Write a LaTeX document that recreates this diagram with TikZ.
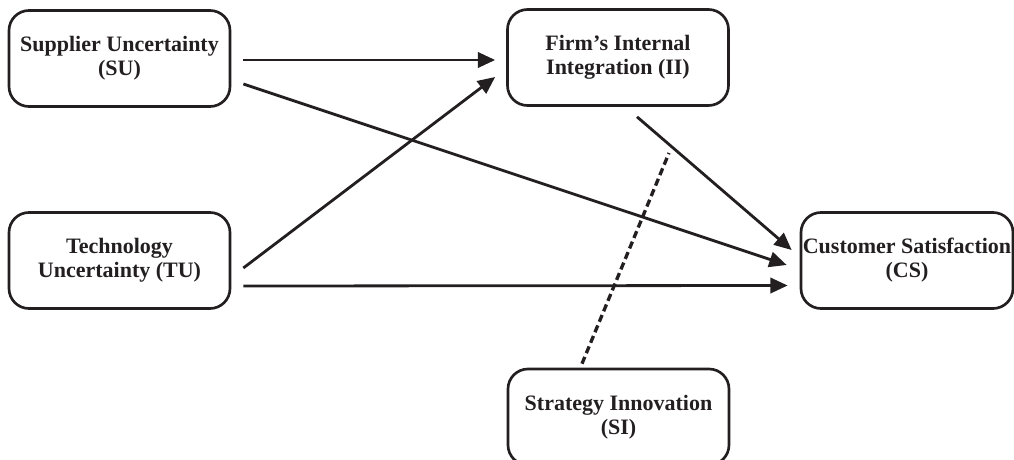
\documentclass[tikz,border=0pt]{standalone}
\usepackage{fontspec}
\setmainfont{Liberation Serif}
\usetikzlibrary{arrows.meta,calc}
\definecolor{ink}{RGB}{35,31,32}
\begin{document}
\begin{tikzpicture}[x=0.75pt,y=-0.75pt,
  construct/.style={draw=ink, line width=2pt, rounded corners=15pt,
    minimum width=165.75pt, minimum height=72pt, align=center,
    text=ink, font=\fontsize{16.5}{18}\selectfont\bfseries, inner sep=0pt},
  path/.style={draw=ink, line width=2.1pt, -{Triangle[length=13pt,width=11.5pt]}},
  moderator/.style={draw=ink, line width=2.5pt, dash pattern=on 5.5pt off 3pt}]
\clip (0,0) rectangle (1014,460);

% constructs
\node[construct] (SU) at (119.5,58.5) {Supplier Uncertainty\\(SU)};
\node[construct] (II) at (618,57.5) {Firm’s Internal\\Integration (II)};
\node[construct] (TU) at (119.5,260.5) {Technology\\Uncertainty (TU)};
\node[construct, minimum width=159pt] (CS) at (907,260.5) {Customer Satisfaction\\(CS)};
\node[construct] (SI) at (618.5,417) {Strategy Innovation\\(SI)};

% hypothesised paths
\draw[path] ($(SU.east)+(12,1.5)$) -- ($(II.west)+(-11,2.5)$);
\draw[path] ($(SU.east)+(12,25.5)$) -- ($(CS.west)+(-13,4.5)$);
\draw[path] ($(TU.east)+(12,7.5)$) -- ($(II.west)+(-11,19.5)$);
\draw[path] ($(TU.east)+(12,25.5)$) -- ($(CS.west)+(-12,25)$);
\draw[path] ($(II.south)+(19,10)$) -- ($(CS.west)+(-8,-10.5)$);

% moderating effect
\coordinate (mod) at (669,153);
\draw[moderator] ($(SI.north)+(-36.5,-4)$) -- (mod);
\end{tikzpicture}
\end{document}
